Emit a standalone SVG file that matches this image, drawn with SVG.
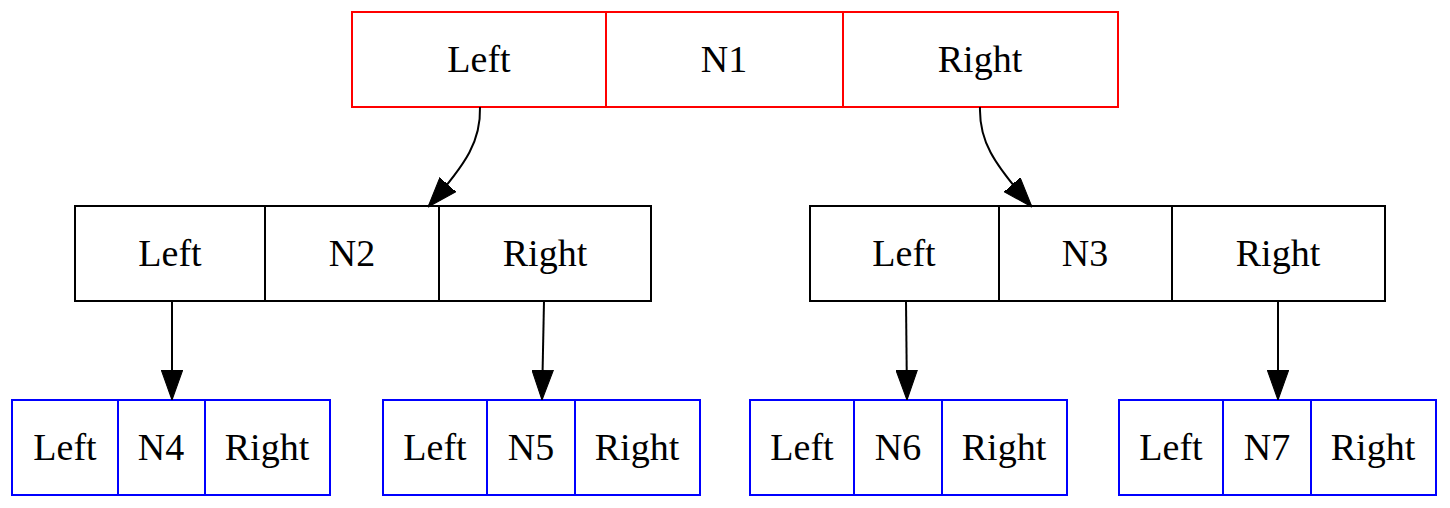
<svg xmlns="http://www.w3.org/2000/svg" width="1450" height="508" viewBox="0 0 1450 508">
<style>
.box{fill:none;stroke-width:2}
.red{stroke:#ff0000}
.blk{stroke:#000000}
.blu{stroke:#0000ff}
text{font-family:"Liberation Serif","Times New Roman",serif;font-size:38px;fill:#000;text-anchor:middle}
.edge{fill:none;stroke:#000;stroke-width:2}
</style>
<defs>
<marker id="arr" markerUnits="userSpaceOnUse" markerWidth="30" markerHeight="22" viewBox="0 0 28 20" refX="28" refY="10" orient="auto">
<path d="M0,0 L28,10 L0,20 Z" fill="#000" stroke="#000" stroke-width="1"/>
</marker>
</defs>
<g id="N1">
<rect class="box red" x="352" y="12" width="766" height="95"/>
<line class="box red" x1="606" y1="12" x2="606" y2="107"/>
<line class="box red" x1="843" y1="12" x2="843" y2="107"/>
<text x="479" y="72">Left</text>
<text x="724" y="72">N1</text>
<text x="980" y="72">Right</text>
</g>
<g id="N2">
<rect class="box blk" x="75" y="206" width="576" height="95"/>
<line class="box blk" x1="265" y1="206" x2="265" y2="301"/>
<line class="box blk" x1="439" y1="206" x2="439" y2="301"/>
<text x="170" y="266">Left</text>
<text x="352" y="266">N2</text>
<text x="545" y="266">Right</text>
</g>
<g id="N3">
<rect class="box blk" x="810" y="206" width="575" height="95"/>
<line class="box blk" x1="999" y1="206" x2="999" y2="301"/>
<line class="box blk" x1="1172" y1="206" x2="1172" y2="301"/>
<text x="904" y="266">Left</text>
<text x="1085" y="266">N3</text>
<text x="1278" y="266">Right</text>
</g>
<g id="N4">
<rect class="box blu" x="12" y="400" width="318" height="95"/>
<line class="box blu" x1="118" y1="400" x2="118" y2="495"/>
<line class="box blu" x1="205" y1="400" x2="205" y2="495"/>
<text x="65" y="460">Left</text>
<text x="161" y="460">N4</text>
<text x="267" y="460">Right</text>
</g>
<g id="N5">
<rect class="box blu" x="383" y="400" width="317" height="95"/>
<line class="box blu" x1="487" y1="400" x2="487" y2="495"/>
<line class="box blu" x1="575" y1="400" x2="575" y2="495"/>
<text x="435" y="460">Left</text>
<text x="531" y="460">N5</text>
<text x="637" y="460">Right</text>
</g>
<g id="N6">
<rect class="box blu" x="750" y="400" width="317" height="95"/>
<line class="box blu" x1="854" y1="400" x2="854" y2="495"/>
<line class="box blu" x1="942" y1="400" x2="942" y2="495"/>
<text x="802" y="460">Left</text>
<text x="898" y="460">N6</text>
<text x="1004" y="460">Right</text>
</g>
<g id="N7">
<rect class="box blu" x="1119" y="400" width="317" height="95"/>
<line class="box blu" x1="1223" y1="400" x2="1223" y2="495"/>
<line class="box blu" x1="1311" y1="400" x2="1311" y2="495"/>
<text x="1171" y="460">Left</text>
<text x="1267" y="460">N7</text>
<text x="1373" y="460">Right</text>
</g>
<g id="connectors">
<path class="edge" d="M480,107 C481,140 468,162 428,207" marker-end="url(#arr)"/>
<path class="edge" d="M980,107 C979,140 992,162 1032,207" marker-end="url(#arr)"/>
<path class="edge" d="M172,301 L172,400" marker-end="url(#arr)"/>
<path class="edge" d="M544,301 L542,400" marker-end="url(#arr)"/>
<path class="edge" d="M906,301 L907,400" marker-end="url(#arr)"/>
<path class="edge" d="M1278,301 L1278,400" marker-end="url(#arr)"/>
</g>
</svg>
